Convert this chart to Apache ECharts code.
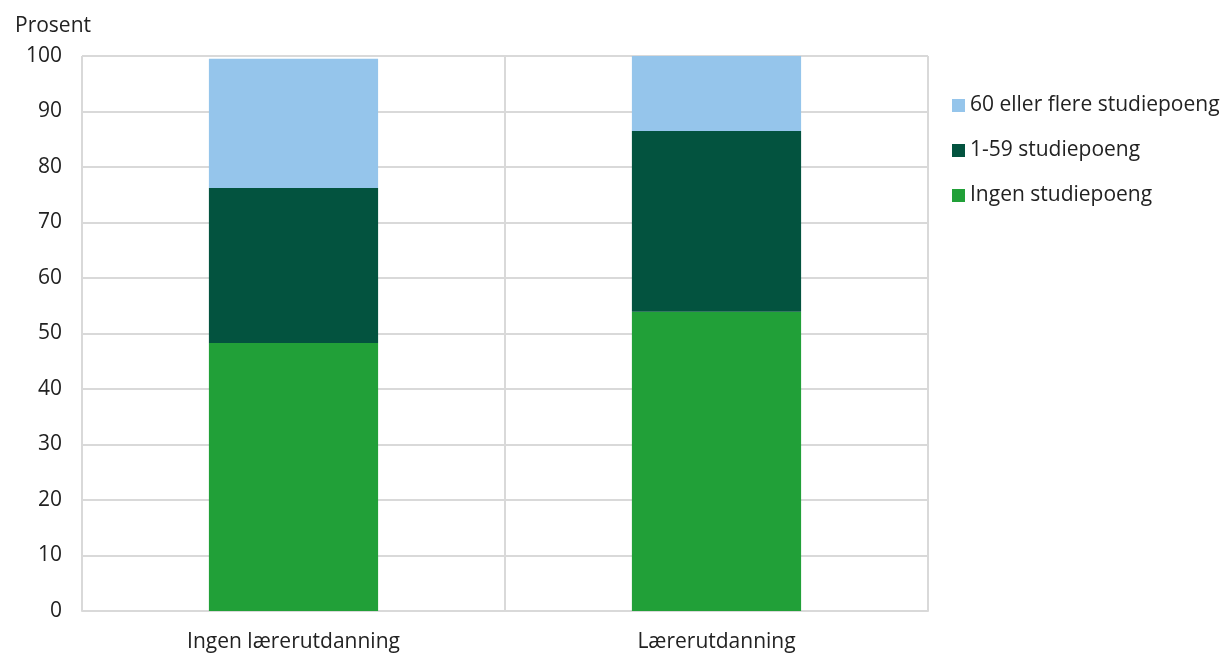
<!DOCTYPE html>
<html><head><meta charset="utf-8">
<script src="https://cdn.jsdelivr.net/npm/echarts@6/dist/echarts.min.js"></script>
<style>html,body{margin:0;padding:0;background:#fff}#c{width:1228px;height:655px}</style>
</head><body><div id="c"></div>
<script>
const categories = ["Ingen lærerutdanning", "Lærerutdanning"];
const ingen = [48.3, 53.9];
const noen = [27.9, 32.6];
const seksti = [23.3, 13.5];
const yTicks = [0, 10, 20, 30, 40, 50, 60, 70, 80, 90, 100];

const F = "'Open Sans', sans-serif";
const FS = 21;
const chart = echarts.init(document.getElementById('c'));
chart.setOption({
  animation: false,
  textStyle: {fontFamily: F},
  title: {text: 'Prosent', left: 10, top: 11, textStyle: {fontFamily: F, fontSize: FS, fontWeight: 'normal', color: '#222'}},
  legend: {
    orient: 'vertical', left: 947, top: 90, itemWidth: 13, itemHeight: 13, itemGap: 24,
    data: ['60 eller flere studiepoeng', '1-59 studiepoeng', 'Ingen studiepoeng'],
    textStyle: {fontFamily: F, fontSize: FS, color: '#222'},
    icon: 'rect'
  },
  grid: {left: 82, right: 300, top: 56, bottom: 44, containLabel: false},
  xAxis: {
    type: 'category', data: categories,
    axisLine: {show: true, lineStyle: {color: '#d9d9d9', width: 2}},
    axisTick: {show: false},
    splitLine: {show: true, lineStyle: {color: '#d9d9d9', width: 2}},
    axisLabel: {fontFamily: F, fontSize: FS, color: '#222', margin: 21}
  },
  yAxis: {
    type: 'value', min: yTicks[0], max: yTicks[yTicks.length-1], interval: 10,
    axisLine: {show: false}, axisTick: {show: false},
    splitLine: {lineStyle: {color: '#d9d9d9', width: 2}},
    axisLabel: {fontFamily: F, fontSize: FS, color: '#222', margin: 20}
  },
  series: [
    {name: 'Ingen studiepoeng', type: 'bar', stack: 's', data: ingen, barWidth: '40%', itemStyle: {color: '#21A038'}},
    {name: '1-59 studiepoeng', type: 'bar', stack: 's', data: noen, itemStyle: {color: '#03533F'}},
    {name: '60 eller flere studiepoeng', type: 'bar', stack: 's', data: seksti, itemStyle: {color: '#95C5EB'}}
  ]
});
</script></body></html>
